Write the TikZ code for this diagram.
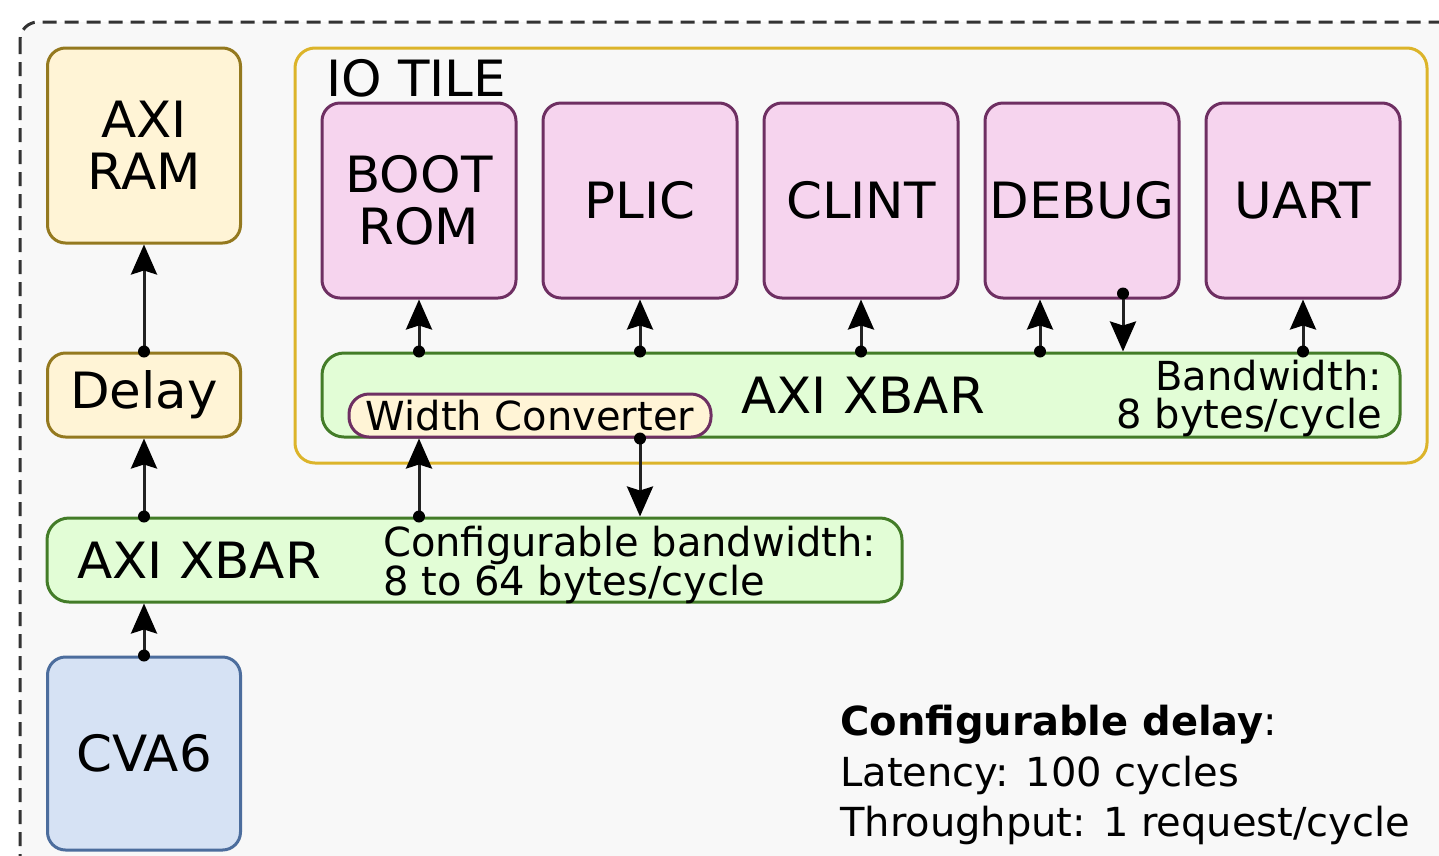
\documentclass[tikz,border=0pt]{standalone}
\usepackage{fontspec}
\setmainfont{DejaVu Sans}
\newfontfamily\bigfam[FakeStretch=1.03]{DejaVu Sans}
\usetikzlibrary{arrows.meta,calc}
\definecolor{bgc}{HTML}{F8F8F8}
\definecolor{ylwF}{HTML}{FFF4D6}
\definecolor{ylwD}{HTML}{94791F}
\definecolor{tileD}{HTML}{DCB42A}
\definecolor{pnkF}{HTML}{F6D4EE}
\definecolor{pnkD}{HTML}{6E2F62}
\definecolor{grnF}{HTML}{E2FDD6}
\definecolor{grnD}{HTML}{437C28}
\definecolor{bluF}{HTML}{D6E2F4}
\definecolor{bluD}{HTML}{4C6D9D}
\definecolor{lineC}{HTML}{222222}
\newcommand{\sizeL}{\bigfam\fontsize{50}{52}\selectfont}
\newcommand{\sizeS}{\fontsize{40}{42}\selectfont}
\begin{document}
\begin{tikzpicture}[x=1pt,y=-1pt,
  blk/.style={draw, line width=3pt, rounded corners=18pt, inner sep=0pt, align=center, font=\sizeL},
  yblk/.style={blk, fill=ylwF, draw=ylwD},
  pblk/.style={blk, fill=pnkF, draw=pnkD, minimum width=194pt, minimum height=195pt},
  gblk/.style={blk, fill=grnF, draw=grnD, rounded corners=22pt},
  conn/.style={draw=lineC, line width=3pt, -{Stealth[length=30pt,width=26pt,inset=4pt,color=black]}},
  dot/.style={fill=black},
  lbl/.style={inner sep=0pt, font=\sizeS}
]
\useasboundingbox (0,0) rectangle (1439,855);
\clip (0,0) rectangle (1439,855);
\fill[white] (0,0) rectangle (1439,855);
\draw[fill=bgc, draw=black!80, line width=3pt, dash pattern=on 14pt off 8pt, rounded corners=18pt] (20,22) rectangle (1480,900);

% left column
\node[yblk, minimum width=193pt, minimum height=195pt] (ram) at (144,145.5) {AXI\\RAM};
\node[yblk, minimum width=193pt, minimum height=84pt] (delay) at (144,395) {Delay};
\node[blk, fill=bluF, draw=bluD, minimum width=193pt, minimum height=193pt] (cva) at (144,753.5) {CVA6};
\node[gblk, minimum width=855pt, minimum height=84pt] (xbarA) at (474.5,560) {};
\node[inner sep=0pt, font=\sizeL, anchor=base west] (xbarAt) at (77,578) {AXI XBAR};
\node[lbl, anchor=base west] (bwA1) at (383,556) {Configurable bandwidth:};
\node[lbl, anchor=base west] (bwA2) at (383,595) {8 to 64 bytes/cycle};

% IO tile
\node[draw=tileD, line width=3pt, rounded corners=20pt, minimum width=1132pt, minimum height=415pt, inner sep=0pt] (tile) at (861,255.5) {};
\node[inner sep=0pt, font=\sizeL, anchor=base west] (tilet) at (326,96) {IO TILE};
\node[pblk] (boot) at (419,200.5) {BOOT\\ROM};
\node[pblk] (plic) at (640,200.5) {PLIC};
\node[pblk] (clint) at (861,200.5) {CLINT};
\node[pblk] (debug) at (1082,200.5) {DEBUG};
\node[pblk] (uart) at (1303,200.5) {UART};
\node[gblk, minimum width=1078pt, minimum height=84pt] (xbarB) at (861,395) {};
\node[inner sep=0pt, font=\sizeL, anchor=base west] (xbarBt) at (741,413) {AXI XBAR};
\node[lbl, anchor=base east] (bwB1) at (1382,390) {Bandwidth:};
\node[lbl, anchor=base east] (bwB2) at (1382,428) {8 bytes/cycle};
\node[draw=pnkD, fill=ylwF, line width=3pt, rounded corners=20pt, minimum width=362pt, minimum height=43pt, inner sep=0pt, font=\sizeS] (wc) at (530,415.5) {Width Converter};

% connectors
\coordinate (d1) at (delay.north);
\draw[conn] (d1) -- (ram.south);
\coordinate (d2) at (xbarA.north -| delay.south);
\draw[conn] (d2) -- (delay.south);
\coordinate (d3) at (cva.north);
\draw[conn] (d3) -- (xbarA.south -| cva.north);
\coordinate (d4) at (xbarA.north -| boot.south);
\draw[conn] (d4) -- (wc.south -| boot.south);
\coordinate (d5) at (wc.south -| plic.south);
\draw[conn] (d5) -- (xbarA.north -| plic.south);
\coordinate (e1) at (xbarB.north -| boot.south);
\draw[conn] (e1) -- (boot.south);
\coordinate (e2) at (xbarB.north -| plic.south);
\draw[conn] (e2) -- (plic.south);
\coordinate (e3) at (xbarB.north -| clint.south);
\draw[conn] (e3) -- (clint.south);
\coordinate (e4) at ($(xbarB.north -| debug.south)+(-42,0)$);
\draw[conn] (e4) -- (e4 |- debug.south);
\coordinate (e5) at ($(debug.south)+(41,-6)$);
\draw[conn] (e5) -- (e5 |- xbarB.north);
\coordinate (e6) at (xbarB.north -| uart.south);
\draw[conn] (e6) -- (uart.south);
\foreach \p in {d1,d2,d3,d4,d5,e1,e2,e3,e4,e5,e6} \fill[dot] (\p) circle[radius=6];

% note
\node[lbl, anchor=base west] (n1) at (840,735) {\textbf{Configurable delay}:};
\node[lbl, anchor=base west] (n2) at (840,786) {Latency: 100 cycles};
\node[lbl, anchor=base west] (n3) at (840,836) {Throughput: 1 request/cycle};
\end{tikzpicture}
\end{document}
